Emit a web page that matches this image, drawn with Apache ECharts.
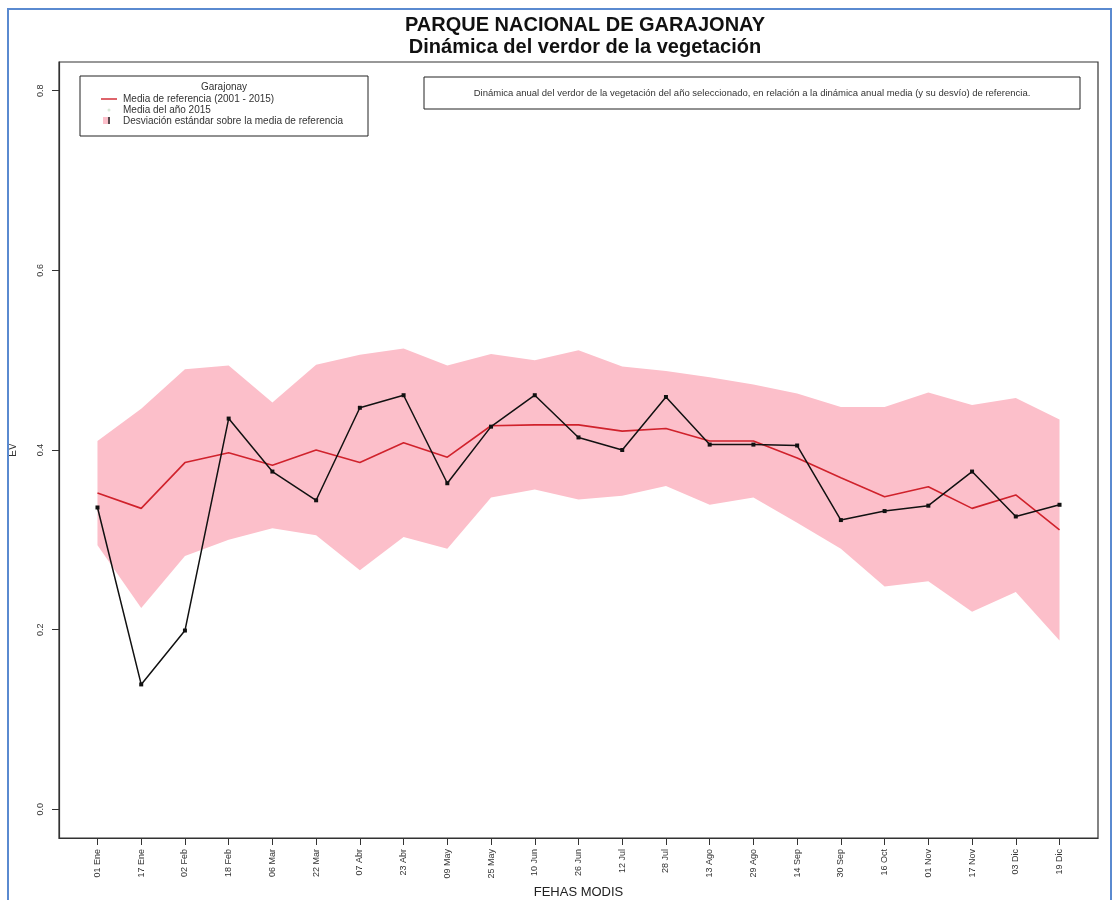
<!DOCTYPE html>
<html>
<head>
<meta charset="utf-8">
<title>Parque Nacional de Garajonay - Dinámica del verdor</title>
<script src="https://cdn.jsdelivr.net/npm/echarts@6/dist/echarts.min.js"></script>
<style>
  html, body { margin: 0; padding: 0; background: #ffffff; }
  #chart { width: 1115px; height: 900px; }
</style>
</head>
<body>
<div id="chart"></div>
<script>
// Fechas de los compuestos MODIS de 16 días
const fechas = ['01 Ene','17 Ene','02 Feb','18 Feb','06 Mar','22 Mar','07 Abr','23 Abr','09 May','25 May',
  '10 Jun','26 Jun','12 Jul','28 Jul','13 Ago','29 Ago','14 Sep','30 Sep','16 Oct','01 Nov','17 Nov','03 Dic','19 Dic'];

// Media de referencia (2001 - 2015)
const mediaReferencia = [0.352, 0.335, 0.386, 0.397, 0.383, 0.400, 0.386, 0.408, 0.392, 0.427, 0.428, 0.428,
  0.421, 0.424, 0.410, 0.410, 0.391, 0.369, 0.348, 0.359, 0.335, 0.350, 0.311];

// Desviación estándar sobre la media de referencia
const desviacion = [0.058, 0.111, 0.104, 0.097, 0.070, 0.095, 0.120, 0.105, 0.102, 0.080, 0.072, 0.083,
  0.072, 0.064, 0.071, 0.063, 0.072, 0.079, 0.100, 0.105, 0.115, 0.108, 0.123];

// Media del año seleccionado
const mediaAnio = [0.336, 0.139, 0.199, 0.435, 0.376, 0.344, 0.447, 0.461, 0.363, 0.426, 0.461, 0.414,
  0.400, 0.459, 0.406, 0.406, 0.405, 0.322, 0.332, 0.338, 0.376, 0.326, 0.339];

// Marcas del eje Y
const ticksY = [0, 0.2, 0.4, 0.6, 0.8];

const FONT = "'Liberation Sans', Arial, Helvetica, sans-serif";
const ROJO = '#d0222c';
const ROSA = '#fcbfca';

// Posición de cada fecha en el eje X (1..n), con el margen del 4 % a cada lado como en R
const posX = fechas.map((_, i) => i + 1);
const margenX = 0.04 * (posX.length - 1);
const margenY = 0.04 * (ticksY[ticksY.length - 1] - ticksY[0]);

const pares = arr => arr.map((v, i) => [posX[i], v]);

// Límites de la banda media ± desviación
const bandaInf = mediaReferencia.map((m, i) => +(m - desviacion[i]).toFixed(4));
const bandaSup = mediaReferencia.map((m, i) => +(m + desviacion[i]).toFixed(4));
const datosBanda = posX.map((x, i) => [x, bandaInf[i], bandaSup[i]]);

// Dibuja la banda como un único polígono (borde superior y vuelta por el inferior)
function dibujarBanda(params, api) {
  if (params.dataIndex !== 0) return null;
  const sup = datosBanda.map(d => api.coord([d[0], d[2]]));
  const inf = datosBanda.slice().reverse().map(d => api.coord([d[0], d[1]]));
  return {
    type: 'polygon',
    shape: { points: sup.concat(inf) },
    style: { fill: ROSA, stroke: null }
  };
}

const chart = echarts.init(document.getElementById('chart'), null, { renderer: 'canvas' });

const option = {
  animation: false,
  backgroundColor: '#ffffff',
  textStyle: { fontFamily: FONT },
  title: {
    text: 'PARQUE NACIONAL DE GARAJONAY\nDinámica del verdor de la vegetación',
    left: 580, top: 9, textAlign: 'center',
    textStyle: { fontFamily: FONT, fontSize: 20, fontWeight: 'bold', color: '#111', lineHeight: 22 }
  },
  grid: { left: 59, right: 17, top: 62, bottom: 62, containLabel: false, outerBoundsMode: 'none' },
  xAxis: {
    type: 'value',
    min: posX[0] - margenX,
    max: posX[posX.length - 1] + margenX,
    axisLine: { show: true, onZero: false, lineStyle: { color: '#333', width: 1.2 } },
    axisTick: { show: true, length: 7, customValues: posX, lineStyle: { color: '#333', width: 1 } },
    axisLabel: {
      customValues: posX, rotate: 90, fontSize: 9, color: '#333', margin: 11, fontFamily: FONT,
      formatter: v => fechas[Math.round(v) - 1] || ''
    },
    splitLine: { show: false },
    name: 'FEHAS MODIS',
    nameLocation: 'middle',
    nameGap: 45,
    nameTextStyle: { fontSize: 13, color: '#222', fontFamily: FONT }
  },
  yAxis: {
    type: 'value',
    min: ticksY[0] - margenY,
    max: ticksY[ticksY.length - 1] + margenY,
    axisLine: { show: true, onZero: false, lineStyle: { color: '#333', width: 1.2 } },
    axisTick: { show: true, length: 7, customValues: ticksY, lineStyle: { color: '#333', width: 1 } },
    axisLabel: {
      customValues: ticksY, rotate: 90, fontSize: 9, color: '#333', margin: 14, fontFamily: FONT,
      formatter: v => (+v).toFixed(1)
    },
    splitLine: { show: false },
    name: 'EV',
    nameLocation: 'middle',
    nameGap: 41,
    nameRotate: 90,
    nameTextStyle: { fontSize: 10, color: '#333', fontFamily: FONT }
  },
  series: [
    {
      name: 'Desviación estándar sobre la media de referencia', type: 'custom',
      data: datosBanda, renderItem: dibujarBanda,
      encode: { x: 0, y: [1, 2] }, silent: true, z: 1
    },
    {
      name: 'Media de referencia (2001 - 2015)', type: 'line', data: pares(mediaReferencia),
      symbol: 'none', lineStyle: { color: ROJO, width: 1.6 }, z: 3
    },
    {
      name: 'Media del año 2015', type: 'line', data: pares(mediaAnio),
      symbol: 'rect', symbolSize: 4, showAllSymbol: true,
      itemStyle: { color: '#111' }, lineStyle: { color: '#111', width: 1.5 }, z: 4
    }
  ],
  graphic: [
    // Borde exterior azul
    { type: 'rect', shape: { x: 8, y: 9, width: 1103, height: 900 },
      style: { fill: null, stroke: '#5a8ad0', lineWidth: 2 }, silent: true, z: 100 },
    // Caja del área de trazado
    { type: 'rect', shape: { x: 59, y: 62, width: 1039, height: 776 },
      style: { fill: null, stroke: '#333', lineWidth: 1.2 }, silent: true, z: 100 },
    // Leyenda
    { type: 'rect', shape: { x: 80, y: 76, width: 288, height: 60 },
      style: { fill: '#fff', stroke: '#222', lineWidth: 1 }, silent: true, z: 100 },
    { type: 'text', x: 224, y: 87, z: 101, silent: true,
      style: { text: 'Garajonay', fill: '#333', font: '10px ' + FONT, align: 'center', verticalAlign: 'middle' } },
    { type: 'line', shape: { x1: 101, y1: 99, x2: 117, y2: 99 }, z: 101, silent: true,
      style: { stroke: ROJO, lineWidth: 1.4 } },
    { type: 'text', x: 123, y: 99, z: 101, silent: true,
      style: { text: 'Media de referencia (2001 - 2015)', fill: '#333', font: '10px ' + FONT, verticalAlign: 'middle' } },
    { type: 'circle', shape: { cx: 109, cy: 110, r: 1.5 }, z: 101, silent: true,
      style: { fill: '#d8e8d8' } },
    { type: 'text', x: 123, y: 110, z: 101, silent: true,
      style: { text: 'Media del año 2015', fill: '#333', font: '10px ' + FONT, verticalAlign: 'middle' } },
    { type: 'rect', shape: { x: 103, y: 117, width: 7, height: 7 }, z: 101, silent: true,
      style: { fill: ROSA } },
    { type: 'line', shape: { x1: 109, y1: 117, x2: 109, y2: 124 }, z: 102, silent: true,
      style: { stroke: '#222', lineWidth: 1.5 } },
    { type: 'text', x: 123, y: 121, z: 101, silent: true,
      style: { text: 'Desviación estándar sobre la media de referencia', fill: '#333', font: '10px ' + FONT, verticalAlign: 'middle' } },
    // Nota explicativa
    { type: 'rect', shape: { x: 424, y: 77, width: 656, height: 32 },
      style: { fill: '#fff', stroke: '#222', lineWidth: 1 }, silent: true, z: 100 },
    { type: 'text', x: 752, y: 93, z: 101, silent: true,
      style: { text: 'Dinámica anual del verdor de la vegetación del año seleccionado, en relación a la dinámica anual media (y su desvío) de referencia.',
        fill: '#333', font: '9.5px ' + FONT, align: 'center', verticalAlign: 'middle' } }
  ]
};

chart.setOption(option);
</script>
</body>
</html>
